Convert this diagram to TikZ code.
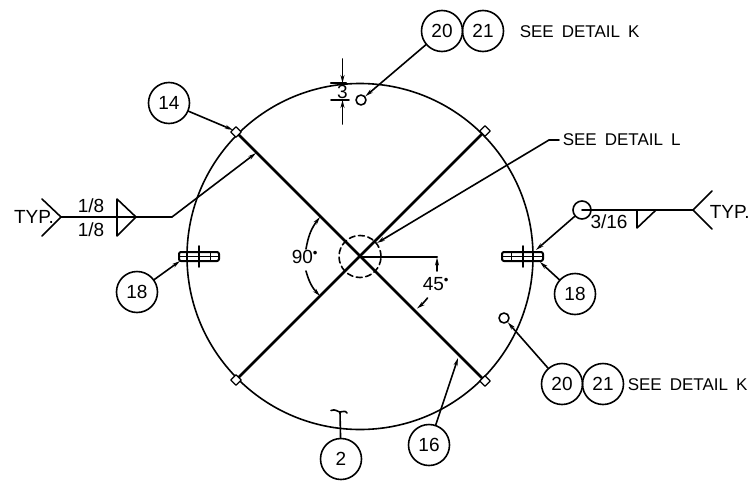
\documentclass[tikz,border=0pt]{standalone}
\usepackage{fontspec}
\setmainfont{Liberation Sans}
\usetikzlibrary{arrows.meta,shapes.geometric}
\newcommand{\cadtxt}{\fontsize{17}{19}\selectfont}
\newcommand{\cadnum}{\fontsize{19}{21}\selectfont}
\newcommand{\dbl}{\hspace{8pt}}
\tikzset{
  x=1pt,y=1pt,
  every path/.style={line width=1.6pt,line cap=round,line join=round},
  balloon/.style={draw,circle,minimum size=41pt,inner sep=0pt,font=\cadnum},
  hole/.style={draw,circle,minimum size=10pt,inner sep=0pt},
  weldring/.style={draw,circle,minimum size=18pt,inner sep=0pt},
  pad/.style={draw,diamond,minimum size=11pt,inner sep=0pt,fill=white,line width=1.3pt},
  cadlabel/.style={font=\cadtxt,inner sep=0pt},
  numlabel/.style={font=\cadnum,inner sep=0pt},
  leadtip/.style={-{Stealth[length=8pt,width=4pt]}},
  plate/.style={line width=2.6pt},
  bolt/.style={line width=2pt,rounded corners=2pt},
}
\begin{document}
\begin{tikzpicture}
\useasboundingbox (0,0) rectangle (751,-487);
\fill[white] (0,0) rectangle (751,-487);

% shell
\coordinate (ctr) at (360,-256.5);
\draw (ctr) circle[radius=173];
\draw[dash pattern=on 6pt off 3.5pt] (ctr) circle[radius=21];

% cross plates
\coordinate (tl) at (237,-133);
\coordinate (tr) at (484,-132);
\coordinate (bl) at (237,-379);
\coordinate (br) at (484,-380);
\draw[plate] (tl) -- (br);
\draw[plate] (bl) -- (tr);
\node[pad] at (236,-132) {};
\node[pad] at (485,-131) {};
\node[pad] at (236,-380) {};
\node[pad] at (485,-381) {};

% balloons
\node[balloon] (b20a) at (442,-31) {20};
\node[balloon] (b21a) at (483,-31) {21};
\node[balloon] (b14) at (169,-103) {14};
\node[balloon] (b18l) at (137,-292) {18};
\node[balloon] (b18r) at (575,-294) {18};
\node[balloon] (b2) at (341,-459) {2};
\node[balloon] (b16) at (429,-445) {16};
\node[balloon] (b20b) at (562,-384) {20};
\node[balloon] (b21b) at (603,-384) {21};

% texts
\node[cadlabel,anchor=west] (ka) at (519,-32) {SEE\dbl DETAIL\dbl K};
\node[cadlabel,anchor=west] (kb) at (627,-385) {SEE\dbl DETAIL\dbl K};
\node[cadlabel,anchor=west] (ll) at (562,-140) {SEE\dbl DETAIL\dbl L};

% holes
\node[hole] (h1) at (361,-100) {};
\node[hole] (h2) at (504,-318) {};
\draw[leadtip] (b20a) -- (h1);
\draw[leadtip] (b20b) -- (h2);

% dimension 3
\coordinate (d1) at (331,-83);
\coordinate (d2) at (346,-83);
\coordinate (d3) at (331,-100);
\coordinate (d4) at (349,-100);
\coordinate (d5) at (342.5,-59);
\coordinate (d6) at (342.5,-83);
\coordinate (d7) at (342.5,-124);
\coordinate (d8) at (342.5,-100);
\draw[line width=2.2pt] (d1) -- (d2);
\draw (d3) -- (d4);
\draw[leadtip] (d5) -- (d6);
\draw[leadtip] (d7) -- (d8);
\node[numlabel] (t3) at (342.5,-91.5) {3};

% leader 14
\coordinate (p14) at (233,-130);
\draw[leadtip] (b14) -- (p14);

% left weld symbol
\node[numlabel] (typl) at (34,-217) {TYP.};
\coordinate (cl1) at (42,-199);
\coordinate (cl2) at (61,-217);
\coordinate (cl3) at (42,-236);
\draw (cl1) -- (cl2) -- (cl3);
\coordinate (wl1) at (172,-217);
\coordinate (wl2) at (256,-153);
\draw (cl2) -- (wl1);
\draw[leadtip] (wl1) -- (wl2);
\coordinate (tl1) at (117,-199);
\coordinate (tl2) at (136,-217);
\coordinate (tl3) at (117,-236);
\draw (tl1) -- (tl2) -- (tl3) -- cycle;
\node[numlabel] (w1) at (91,-206) {1/8};
\node[numlabel] (w2) at (91,-230) {1/8};

% left bolt
\draw[bolt] (179,-252) rectangle (219,-261);
\coordinate (bl1) at (179,-256.5);
\coordinate (bl2) at (219,-256.5);
\draw (bl1) -- (bl2);
\coordinate (bl3) at (199,-246);
\coordinate (bl4) at (199,-267);
\draw (bl3) -- (bl4);
\coordinate (bl5) at (210,-252);
\coordinate (bl6) at (210,-261);
\draw[line width=1pt] (bl5) -- (bl6);
\coordinate (p18l) at (180,-261);
\draw[leadtip] (b18l) -- (p18l);

% right bolt
\draw[bolt] (502,-252) rectangle (543,-261);
\coordinate (br1) at (502,-256.5);
\coordinate (br2) at (543,-256.5);
\draw (br1) -- (br2);
\coordinate (br3) at (523,-246);
\coordinate (br4) at (523,-267);
\draw (br3) -- (br4);
\coordinate (br5) at (511,-252);
\coordinate (br6) at (511,-261);
\draw[line width=1pt] (br5) -- (br6);
\coordinate (p18r) at (540,-262);
\draw[leadtip] (b18r) -- (p18r);

% right weld symbol
\node[weldring] (wc) at (582,-210) {};
\coordinate (cr1) at (712,-191);
\coordinate (cr2) at (693,-210);
\coordinate (cr3) at (712,-229);
\draw (cr1) -- (cr2) -- (cr3);
\draw (wc.center) -- (cr2);
\coordinate (pw) at (536,-250);
\draw[leadtip] (wc) -- (pw);
\coordinate (tr1) at (637,-210);
\coordinate (tr2) at (637,-228);
\coordinate (tr3) at (656,-210);
\draw (tr1) -- (tr2) -- (tr3);
\node[numlabel] (w3) at (609,-222) {3/16};
\node[numlabel,anchor=west] (typr) at (709,-212) {TYP.};

% detail L leader
\coordinate (l1) at (559,-140);
\coordinate (l2) at (549,-140);
\coordinate (l3) at (377,-243);
\draw (l1) -- (l2);
\draw[leadtip] (l2) -- (l3);

% 45 deg
\coordinate (h45) at (437,-256.5);
\draw[line width=2pt] (ctr) -- (h45);
\node[numlabel] (t45) at (436,-284) {45\textsuperscript{\textbullet}};
\coordinate (a1) at (437,-271);
\coordinate (a2) at (437,-257.5);
\draw[leadtip] (a1) -- (a2);
\coordinate (a3) at (427.5,-298);
\coordinate (a4) at (417,-308.5);
\draw[leadtip] (a3) to[bend left=6] (a4);

% 90 deg
\node[numlabel] (t90) at (305,-257) {90\textsuperscript{\textbullet}};
\coordinate (n1) at (306,-249);
\coordinate (n2) at (320,-217);
\coordinate (n3) at (306,-271);
\coordinate (n4) at (320,-296);
\draw[leadtip] (n1) to[bend left=14] (n2);
\draw[leadtip] (n3) to[bend right=14] (n4);

% balloon 2 with break mark
\coordinate (b2t) at (340,-412);
\draw (b2) -- (b2t);
\draw (331,-410.5) .. controls (335,-408.5) and (338,-412) .. (340,-412) .. controls (343,-412) and (345,-410) .. (347,-413);

% leader 16
\coordinate (p16) at (458,-358);
\draw[leadtip] (b16) -- (p16);
\end{tikzpicture}
\end{document}
